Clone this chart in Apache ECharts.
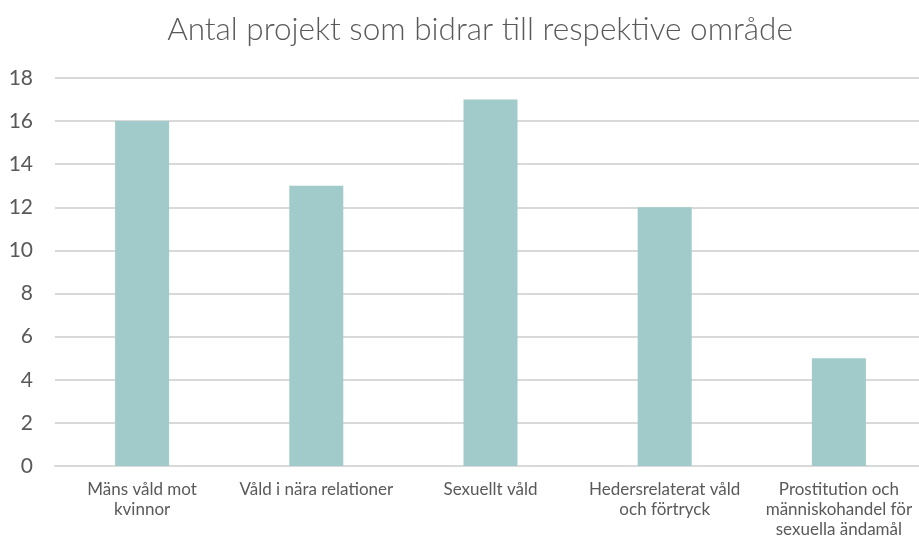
<!DOCTYPE html>
<html>
<head>
<meta charset="utf-8">
<script src="https://cdn.jsdelivr.net/npm/echarts@6/dist/echarts.min.js"></script>
<style>
  html, body { margin: 0; padding: 0; background: #fff; }
  #chart { width: 919px; height: 541px; }
</style>
</head>
<body>
<div id="chart"></div>
<script>
const categories = [
    'Mäns våld mot\nkvinnor',
    'Våld i nära relationer',
    'Sexuellt våld',
    'Hedersrelaterat våld\noch förtryck',
    'Prostitution och\nmänniskohandel för\nsexuella ändamål'
]
const projectCounts = [16, 13, 17, 12, 5]
const yTicks = [0, 2, 4, 6, 8, 10, 12, 14, 16, 18]

let chart = echarts.init(document.querySelector('#chart'))

chart.setOption({
    animation: false,
    textStyle: { fontFamily: 'Lato, "Open Sans", sans-serif' },
    title: {
        text: 'Antal projekt som bidrar till respektive område',
        left: 475,
        textAlign: 'center',
        top: 9,
        textStyle: {
            color: '#595959',
            fontSize: 31.5,
            fontWeight: 300,
            fontFamily: 'Lato, "Open Sans", sans-serif'
        }
    },
    grid: {
        left: 55,
        width: 871,
        top: 78,
        bottom: 75,
        containLabel: false,
        outerBoundsMode: 'none'
    },
    xAxis: {
        type: 'category',
        data: categories,
        axisTick: { show: false },
        axisLine: { lineStyle: { color: '#d9d9d9', width: 2 } },
        axisLabel: {
            color: '#595959',
            fontSize: 17,
            lineHeight: 20,
            margin: 14,
            interval: 0
        }
    },
    yAxis: {
        type: 'value',
        min: yTicks[0],
        max: yTicks[yTicks.length - 1],
        interval: 2,
        axisLine: { show: false },
        axisTick: { show: false },
        axisLabel: {
            color: '#595959',
            fontSize: 21,
            margin: 22
        },
        splitLine: { lineStyle: { color: '#d9d9d9', width: 2 } }
    },
    series: [{
        type: 'bar',
        data: projectCounts,
        barWidth: 54,
        itemStyle: { color: '#a0cbca' }
    }]
})
</script>
</body>
</html>
